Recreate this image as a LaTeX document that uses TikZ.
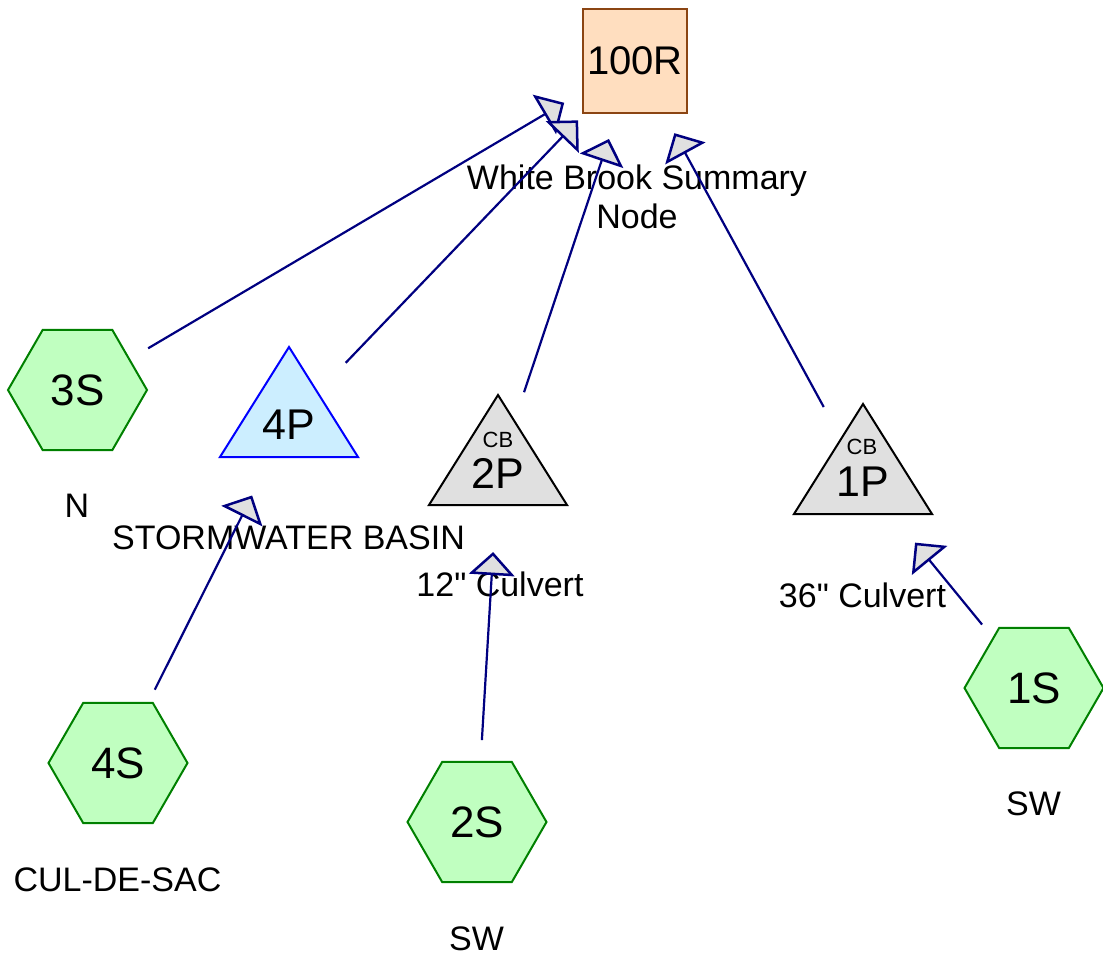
\documentclass[tikz,border=0pt]{standalone}
\usepackage{fontspec}
\setmainfont{Liberation Sans}[Ligatures=TeXOff]
\usetikzlibrary{shapes.geometric,calc}
\definecolor{hexfill}{HTML}{C0FFC0}
\definecolor{hexdraw}{HTML}{008000}
\definecolor{pondfill}{HTML}{CCEEFF}
\definecolor{ponddraw}{HTML}{0000FF}
\definecolor{cbfill}{HTML}{E0E0E0}
\definecolor{reachfill}{HTML}{FFDEBF}
\definecolor{reachdraw}{HTML}{8B4513}
\definecolor{flowcol}{HTML}{000080}
\newcommand\flowarrow[2]{%
  \coordinate (tp) at ($(#2.center)!84pt!(#1.center)$);
  \coordinate (bs) at ($(#2.center)!104pt!(#1.center)$);
  \draw[flowline] ($(#1.center)!82pt!(#2.center)$) -- (bs);
  \draw[flowhead] (tp) -- ($(bs)!20pt!90:(tp)$) -- ($(bs)!20pt!-90:(tp)$) -- cycle;
}
\begin{document}
\begin{tikzpicture}[x=1pt,y=-1pt,
  subcat/.style={regular polygon, regular polygon sides=6, minimum size=139pt, inner sep=0pt,
    draw=hexdraw, fill=hexfill, line width=2pt, font=\fontsize{44}{50}\selectfont},
  reachbox/.style={rectangle, minimum size=104pt, inner sep=0pt, draw=reachdraw, fill=reachfill,
    line width=2pt, font=\fontsize{40}{46}\selectfont},
  pondctr/.style={inner sep=0pt, minimum size=0pt},
  pondtext/.style={inner sep=0pt, font=\fontsize{43}{50}\selectfont},
  cbtext/.style={inner sep=0pt, font=\fontsize{22}{26}\selectfont},
  lbl/.style={inner sep=0pt, anchor=base, font=\fontsize{34}{39}\selectfont},
  pondshape/.style={draw=ponddraw, fill=pondfill, line width=2pt},
  cbshape/.style={draw=black, fill=cbfill, line width=2pt},
  flowline/.style={draw=flowcol, line width=2.2pt},
  flowhead/.style={draw=flowcol, fill=cbfill, line width=2.5pt, line join=miter}
]
\useasboundingbox (0,0) rectangle (1103,957);

% pond / reach centres
\node[pondctr] (P4) at (289,422) {};
\node[pondctr] (P2) at (498,470) {};
\node[pondctr] (P1) at (863,479) {};
\draw[pondshape] ($(P4.center)+(-69,35)$) -- ($(P4.center)+(69,35)$) -- ($(P4.center)+(0,-75)$) -- cycle;
\draw[cbshape] ($(P2.center)+(-69,35)$) -- ($(P2.center)+(69,35)$) -- ($(P2.center)+(0,-75)$) -- cycle;
\draw[cbshape] ($(P1.center)+(-69,35)$) -- ($(P1.center)+(69,35)$) -- ($(P1.center)+(0,-75)$) -- cycle;

% nodes
\node[reachbox] (R100) at (635,61) {100R};
\node[subcat] (S3) at (77.5,390) {3S};
\node[subcat] (S4) at (118,763) {4S};
\node[subcat] (S2) at (477,822) {2S};
\node[subcat] (S1) at (1034,688) {1S};
\node[pondtext] (tP4) at (289,425) {4P};
\node[pondtext] (tP2) at (498,473) {2P};
\node[pondtext] (tP1) at (863,482) {1P};
\node[cbtext] (cb2) at (498,440) {CB};
\node[cbtext] (cb1) at (862,447) {CB};

% labels
\node[lbl, align=center] (lR100) at (637,229) {White Brook Summary\\Node};
\node[lbl] (lS3) at (77,517) {N};
\node[lbl] (lP4) at (288.5,549) {STORMWATER BASIN};
\node[lbl] (lP2) at (500,596) {12" Culvert};
\node[lbl] (lP1) at (862.5,607) {36" Culvert};
\node[lbl] (lS4) at (117.5,891) {CUL-DE-SAC};
\node[lbl] (lS2) at (476.5,950) {SW};
\node[lbl] (lS1) at (1033.5,815) {SW};

% flows
\flowarrow{S3}{R100}
\flowarrow{P4}{R100}
\flowarrow{P2}{R100}
\flowarrow{P1}{R100}
\flowarrow{S4}{P4}
\flowarrow{S2}{P2}
\flowarrow{S1}{P1}
\end{tikzpicture}
\end{document}
